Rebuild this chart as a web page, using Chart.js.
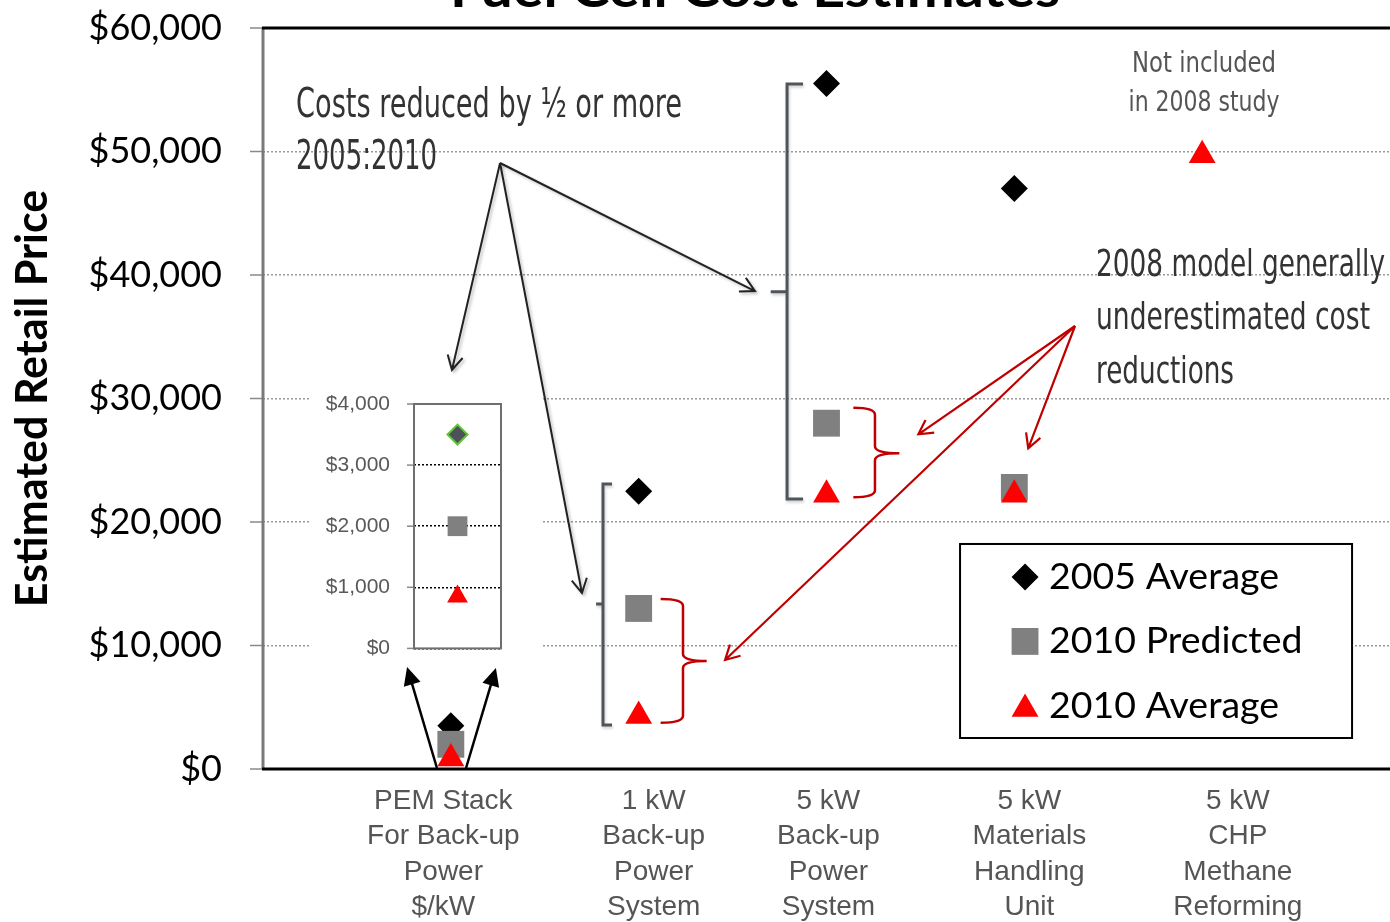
<!DOCTYPE html>
<html>
<head>
<meta charset="utf-8">
<script src="https://cdn.jsdelivr.net/npm/chart.js@4.4.0/dist/chart.umd.min.js"></script>
<style>
  html, body { margin: 0; padding: 0; background: #fff; overflow: hidden; }
  #wrap { position: relative; width: 1390px; height: 922px; }
  #mainChart { position: absolute; left: 0; top: 0; }
  #insetHolder { position: absolute; left: -3000px; top: 0; }
</style>
</head>
<body>
<div id="wrap">
  <canvas id="mainChart" width="1390" height="922"></canvas>
</div>
<div id="insetHolder"><canvas id="insetChart" width="231" height="280"></canvas></div>
<script>
'use strict';

// ---- data ----
const categoryLabels = [
  ['PEM Stack', 'For Back-up', 'Power', '$/kW'],
  ['1 kW', 'Back-up', 'Power', 'System'],
  ['5 kW', 'Back-up', 'Power', 'System'],
  ['5 kW', 'Materials', 'Handling', 'Unit'],
  ['5 kW', 'CHP', 'Methane', 'Reforming']
];
const seriesNames = ['2005 Average', '2010 Predicted', '2010 Average'];
const avg2005 = [3500, 22500, 55500, 47000, null];
const predicted2010 = [2000, 13000, 28000, 22800, null];
const avg2010 = [850, 4300, 22200, 22200, 49700];
const yTickValues = [0, 10000, 20000, 30000, 40000, 50000, 60000];

// inset: PEM stack in $/kW
const insetAvg2005 = [3500];
const insetPredicted2010 = [2000];
const insetAvg2010 = [850];
const insetTickValues = [0, 1000, 2000, 3000, 4000];

const chartTitle = 'Fuel Cell Cost Estimates';
const yTitle = 'Estimated Retail Price';


Chart.defaults.font.family = 'Lato, sans-serif';

function toPoints(values) {
  const pts = [];
  for (let i = 0; i < values.length; i++) {
    if (values[i] !== null) pts.push({ x: i + 1, y: values[i] });
  }
  return pts;
}

function money(v) {
  return '$' + Number(v).toLocaleString('en-US');
}

// text squeezed/stretched to a given width (narrow fonts)
function fitText(ctx, str, x, y, width, font, color, align) {
  ctx.save();
  ctx.font = font;
  ctx.fillStyle = color;
  ctx.textBaseline = 'alphabetic';
  const s = width / ctx.measureText(str).width;
  let dx = 0;
  if (align === 'center') dx = -width / 2;
  ctx.translate(x + dx, y);
  ctx.scale(s, 1);
  ctx.textAlign = 'left';
  ctx.fillText(str, 0, 0);
  ctx.restore();
}

function drawArrow(ctx, x1, y1, x2, y2, head, filled) {
  const ang = Math.atan2(y2 - y1, x2 - x1);
  ctx.beginPath();
  if (filled) {
    const bx = x2 - Math.cos(ang) * head * 0.8;
    const by = y2 - Math.sin(ang) * head * 0.8;
    ctx.moveTo(x1, y1);
    ctx.lineTo(bx, by);
    ctx.stroke();
    ctx.beginPath();
    ctx.moveTo(x2, y2);
    ctx.lineTo(x2 + Math.cos(ang + Math.PI - 0.45) * head, y2 + Math.sin(ang + Math.PI - 0.45) * head);
    ctx.lineTo(x2 + Math.cos(ang + Math.PI + 0.45) * head, y2 + Math.sin(ang + Math.PI + 0.45) * head);
    ctx.closePath();
    ctx.fill();
  } else {
    ctx.moveTo(x1, y1);
    ctx.lineTo(x2, y2);
    ctx.moveTo(x2 + Math.cos(ang + Math.PI - 0.5) * head, y2 + Math.sin(ang + Math.PI - 0.5) * head);
    ctx.lineTo(x2, y2);
    ctx.lineTo(x2 + Math.cos(ang + Math.PI + 0.5) * head, y2 + Math.sin(ang + Math.PI + 0.5) * head);
    ctx.stroke();
  }
}

// annotation layout, in chart value units (x = category position, y = dollars)
const insetPlace = { x: 0.250, y: 31090 };
const blackArrows = [
  { from: [1.262, 49070], to: [1.006, 32310] },
  { from: [1.262, 49070], to: [2.619, 38700] },
  { from: [1.262, 49070], to: [1.698, 14250] }
];
const insetArrows = [
  { from: [0.926, 80], to: [0.767, 8260] },
  { from: [1.081, 80], to: [1.240, 8180] }
];
const redArrows = [
  { from: [4.323, 35870], to: [3.489, 27100] },
  { from: [4.323, 35870], to: [4.074, 25970] },
  { from: [4.323, 35870], to: [2.460, 8830] }
];
const grayBrackets = [
  { x: 1.810, serif: 1.858, tip: 1.773, top: 23080, mid: 13360, bottom: 3560 },
  { x: 2.790, serif: 2.875, tip: 2.703, top: 55460, mid: 38650, bottom: 21860 }
];
const redBraces = [
  { x0: 2.117, xm: 2.236, xt: 2.362, top: 13765, mid: 8745, bottom: 3750 },
  { x0: 3.143, xm: 3.258, xt: 3.388, top: 29255, mid: 25560, bottom: 22000 }
];
const notes = [
  { text: 'Costs reduced by \u00bd or more', x: 0.176, y: 52820, w: 386, size: 40, color: '#333', align: 'left' },
  { text: '2005:2010', x: 0.176, y: 48560, w: 141, size: 40, color: '#333', align: 'left' },
  { text: 'Not included', x: 5.01, y: 56460, w: 144, size: 28, color: '#555', align: 'center' },
  { text: 'in 2008 study', x: 5.01, y: 53300, w: 151, size: 28, color: '#555', align: 'center' },
  { text: '2008 model generally', x: 4.435, y: 39920, w: 289, size: 38, color: '#333', align: 'left' },
  { text: 'underestimated cost', x: 4.435, y: 35600, w: 274, size: 38, color: '#333', align: 'left' },
  { text: 'reductions', x: 4.435, y: 31280, w: 138, size: 38, color: '#333', align: 'left' }
];
const labelShift = [-0.04, 0.08, 0.01, 0.08, 0.19];
const legendBox = { x1: 3.711, x2: 5.798, top: 18220, bottom: 2510, markX: 4.057, textX: 4.185, rows: [15546, 10330, 5100] };
const narrowFont = "'Liberation Sans Narrow', 'DejaVu Sans Condensed', 'Liberation Sans', sans-serif";


// ---- inset chart, drawn first and pasted into the main canvas ----
const insetFrame = {
  id: 'insetFrame',
  beforeDraw(chart) {
    const ctx = chart.ctx;
    ctx.save();
    ctx.fillStyle = '#fff';
    ctx.fillRect(0, 0, chart.width, chart.height);
    ctx.restore();
  },
  beforeDatasetsDraw(chart) {
    const ctx = chart.ctx;
    const a = chart.chartArea;
    ctx.save();
    ctx.strokeStyle = '#8a8a8a';
    ctx.lineWidth = 1.5;
    insetTickValues.forEach(v => {
      const y = chart.scales.y.getPixelForValue(v);
      ctx.beginPath();
      ctx.moveTo(a.left - 7, y);
      ctx.lineTo(a.left, y);
      ctx.stroke();
    });
    ctx.strokeStyle = '#6e6e6e';
    ctx.lineWidth = 2;
    ctx.strokeRect(a.left, a.top, a.right - a.left, a.bottom - a.top);
    ctx.restore();
  }
};

const insetCanvas = document.getElementById('insetChart');
new Chart(insetCanvas, {
  type: 'scatter',
  data: {
    datasets: [
      {
        label: seriesNames[0],
        data: toPoints(insetAvg2005),
        order: 2,
        pointStyle: 'rectRot',
        pointRadius: 10,
        pointHoverRadius: 10,
        backgroundColor: '#4d525a',
        borderColor: '#6abf40',
        borderWidth: 2,
        clip: false
      },
      {
        label: seriesNames[1],
        data: toPoints(insetPredicted2010),
        order: 1,
        pointStyle: 'rect',
        pointRadius: 14,
        pointHoverRadius: 14,
        backgroundColor: '#808080',
        borderWidth: 0,
        clip: false
      },
      {
        label: seriesNames[2],
        data: toPoints(insetAvg2010),
        order: 0,
        pointStyle: 'triangle',
        pointRadius: 12,
        pointHoverRadius: 12,
        backgroundColor: '#ff0000',
        borderWidth: 0,
        clip: false
      }
    ]
  },
  options: {
    responsive: false,
    animation: false,
    layout: { autoPadding: false, padding: { left: 0, right: 40, top: 19, bottom: 13 } },
    plugins: {
      legend: { display: false },
      tooltip: { enabled: false }
    },
    scales: {
      x: { type: 'linear', min: 0, max: 2, display: false },
      y: {
        min: 0,
        max: 4000,
        afterBuildTicks: scale => { scale.ticks = insetTickValues.map(v => ({ value: v })); },
        afterFit: scale => { scale.width = 104; },
        ticks: {
          callback: v => money(v),
          font: { size: 21, family: "'Liberation Sans', Arial, sans-serif" },
          color: '#595959',
          padding: 4
        },
        grid: { color: '#000', lineWidth: 1.5, drawTicks: true, tickLength: 20, tickColor: 'rgba(0,0,0,0)' },
        border: { display: false, dash: [2, 2] }
      }
    }
  },
  plugins: [insetFrame]
});


// ---- main chart ----
const annotations = {
  id: 'annotations',
  beforeDatasetsDraw(chart) {
    const ctx = chart.ctx;
    const area = chart.chartArea;
    const X = v => chart.scales.x.getPixelForValue(v);
    const Y = v => chart.scales.y.getPixelForValue(v);

    // title, mostly cut off by the top edge
    fitText(ctx, chartTitle, X(2.62), 7, 610, 'bold 52px Lato', '#000', 'center');

    // inset picture
    ctx.drawImage(insetCanvas, Math.round(X(insetPlace.x)), Math.round(Y(insetPlace.y)));

    // frame and tick marks
    ctx.save();
    ctx.strokeStyle = '#8a8a8a';
    ctx.lineWidth = 1.5;
    yTickValues.forEach(v => {
      ctx.beginPath();
      ctx.moveTo(area.left - 13, Y(v));
      ctx.lineTo(area.left, Y(v));
      ctx.stroke();
    });
    ctx.strokeStyle = '#7a7a7a';
    ctx.lineWidth = 3;
    ctx.beginPath();
    ctx.moveTo(area.left, area.top);
    ctx.lineTo(area.left, area.bottom);
    ctx.stroke();
    ctx.strokeStyle = '#000';
    ctx.beginPath();
    ctx.moveTo(area.left - 1, area.top);
    ctx.lineTo(area.right, area.top);
    ctx.moveTo(area.left - 1, area.bottom);
    ctx.lineTo(area.right, area.bottom);
    ctx.stroke();
    ctx.restore();

    // category labels under the axis
    ctx.save();
    ctx.font = '28px "Liberation Sans", Arial, sans-serif';
    ctx.fillStyle = '#555';
    ctx.textAlign = 'center';
    ctx.textBaseline = 'middle';
    categoryLabels.forEach((lines, i) => {
      lines.forEach((line, j) => {
        ctx.fillText(line, X(i + 1 + labelShift[i]), area.bottom + 32 + j * 35.5);
      });
    });
    ctx.restore();

    // notes
    notes.forEach(n => {
      fitText(ctx, n.text, X(n.x), Y(n.y), n.w, n.size + 'px ' + narrowFont, n.color, n.align);
    });

    // gray brackets
    ctx.save();
    ctx.strokeStyle = '#50555c';
    ctx.lineWidth = 3;
    ctx.shadowColor = 'rgba(0,0,0,0.2)';
    ctx.shadowBlur = 3;
    ctx.shadowOffsetX = 1;
    ctx.shadowOffsetY = 2;
    grayBrackets.forEach(b => {
      ctx.beginPath();
      ctx.moveTo(X(b.serif), Y(b.top));
      ctx.lineTo(X(b.x), Y(b.top));
      ctx.lineTo(X(b.x), Y(b.bottom));
      ctx.lineTo(X(b.serif), Y(b.bottom));
      ctx.moveTo(X(b.x), Y(b.mid));
      ctx.lineTo(X(b.tip), Y(b.mid));
      ctx.stroke();
    });
    ctx.restore();

    // red braces
    ctx.save();
    ctx.strokeStyle = '#c00000';
    ctx.lineWidth = 2.5;
    redBraces.forEach(b => {
      const x0 = X(b.x0), xm = X(b.xm), xt = X(b.xt);
      const yt = Y(b.top), ym = Y(b.mid), yb = Y(b.bottom);
      const r = 7;
      ctx.beginPath();
      ctx.moveTo(x0, yt);
      ctx.quadraticCurveTo(xm, yt, xm, yt + r);
      ctx.lineTo(xm, ym - r);
      ctx.quadraticCurveTo(xm, ym, xt, ym);
      ctx.moveTo(xt, ym);
      ctx.quadraticCurveTo(xm, ym, xm, ym + r);
      ctx.lineTo(xm, yb - r);
      ctx.quadraticCurveTo(xm, yb, x0, yb);
      ctx.stroke();
    });
    ctx.restore();

    // black arrows
    ctx.save();
    ctx.strokeStyle = '#222';
    ctx.fillStyle = '#000';
    ctx.lineWidth = 2;
    ctx.shadowColor = 'rgba(0,0,0,0.25)';
    ctx.shadowBlur = 3;
    ctx.shadowOffsetX = 2;
    ctx.shadowOffsetY = 2;
    blackArrows.forEach(a => {
      drawArrow(ctx, X(a.from[0]), Y(a.from[1]), X(a.to[0]), Y(a.to[1]), 16, false);
    });
    ctx.restore();

    ctx.save();
    ctx.strokeStyle = '#000';
    ctx.fillStyle = '#000';
    ctx.lineWidth = 2.5;
    insetArrows.forEach(a => {
      drawArrow(ctx, X(a.from[0]), Y(a.from[1]), X(a.to[0]), Y(a.to[1]), 20, true);
    });
    ctx.restore();

    // red arrows
    ctx.save();
    ctx.strokeStyle = '#c00000';
    ctx.lineWidth = 2.2;
    redArrows.forEach(a => {
      drawArrow(ctx, X(a.from[0]), Y(a.from[1]), X(a.to[0]), Y(a.to[1]), 16, false);
    });
    ctx.restore();

    // legend box
    ctx.save();
    const lx = X(legendBox.x1), ly = Y(legendBox.top);
    const lw = X(legendBox.x2) - lx, lh = Y(legendBox.bottom) - ly;
    ctx.fillStyle = '#fff';
    ctx.fillRect(lx, ly, lw, lh);
    ctx.strokeStyle = '#000';
    ctx.lineWidth = 2;
    ctx.strokeRect(lx, ly, lw, lh);
    ctx.font = '36px Lato';
    const scale = 230 / ctx.measureText(seriesNames[0]).width;
    chart.data.datasets.forEach((ds, i) => {
      const my = Y(legendBox.rows[i]);
      ctx.fillStyle = ds.backgroundColor;
      Chart.helpers.drawPoint(ctx, {
        pointStyle: ds.pointStyle, radius: ds.pointRadius, rotation: 0, borderWidth: 0
      }, X(legendBox.markX), my + (ds.pointStyle === 'triangle' ? 3 : 0));
      ctx.save();
      ctx.fillStyle = '#000';
      ctx.textBaseline = 'middle';
      ctx.translate(X(legendBox.textX), my);
      ctx.scale(scale, 1);
      ctx.fillText(ds.label, 0, 0);
      ctx.restore();
    });
    ctx.restore();
  }
};

new Chart(document.getElementById('mainChart'), {
  type: 'scatter',
  data: {
    datasets: [
      {
        label: seriesNames[0],
        data: toPoints(avg2005),
        order: 2,
        pointStyle: 'rectRot',
        pointRadius: 13.5,
        pointHoverRadius: 13.5,
        backgroundColor: '#000',
        borderWidth: 0,
        clip: false
      },
      {
        label: seriesNames[1],
        data: toPoints(predicted2010),
        order: 1,
        pointStyle: 'rect',
        pointRadius: 19,
        pointHoverRadius: 19,
        backgroundColor: '#808080',
        borderWidth: 0,
        clip: false
      },
      {
        label: seriesNames[2],
        data: toPoints(avg2010),
        order: 0,
        pointStyle: 'triangle',
        pointRadius: 15.5,
        pointHoverRadius: 15.5,
        backgroundColor: '#ff0000',
        borderWidth: 0,
        clip: false
      }
    ]
  },
  options: {
    responsive: false,
    animation: false,
    layout: { autoPadding: false, padding: { left: 0, right: 0, top: 28, bottom: 153 } },
    plugins: {
      legend: { display: false },
      tooltip: { enabled: false }
    },
    scales: {
      x: { type: 'linear', min: 0, max: 6, display: false },
      y: {
        min: 0,
        max: 60000,
        afterBuildTicks: scale => { scale.ticks = yTickValues.map(v => ({ value: v })); },
        afterFit: scale => { scale.width = 263; },
        ticks: {
          callback: v => money(v),
          font: { size: 36, family: 'Lato' },
          color: '#000',
          padding: 4
        },
        grid: {
          color: '#9a9a9a',
          lineWidth: 1.5,
          drawTicks: true,
          tickLength: 37,
          tickColor: 'rgba(0,0,0,0)'
        },
        border: { display: false, dash: [2, 2] },
        title: {
          display: true,
          text: yTitle,
          font: { size: 43, weight: 'bold', family: 'Lato' },
          color: '#000',
          padding: { top: 7, bottom: 0 }
        }
      }
    }
  },
  plugins: [annotations]
});
</script>
</body>
</html>
